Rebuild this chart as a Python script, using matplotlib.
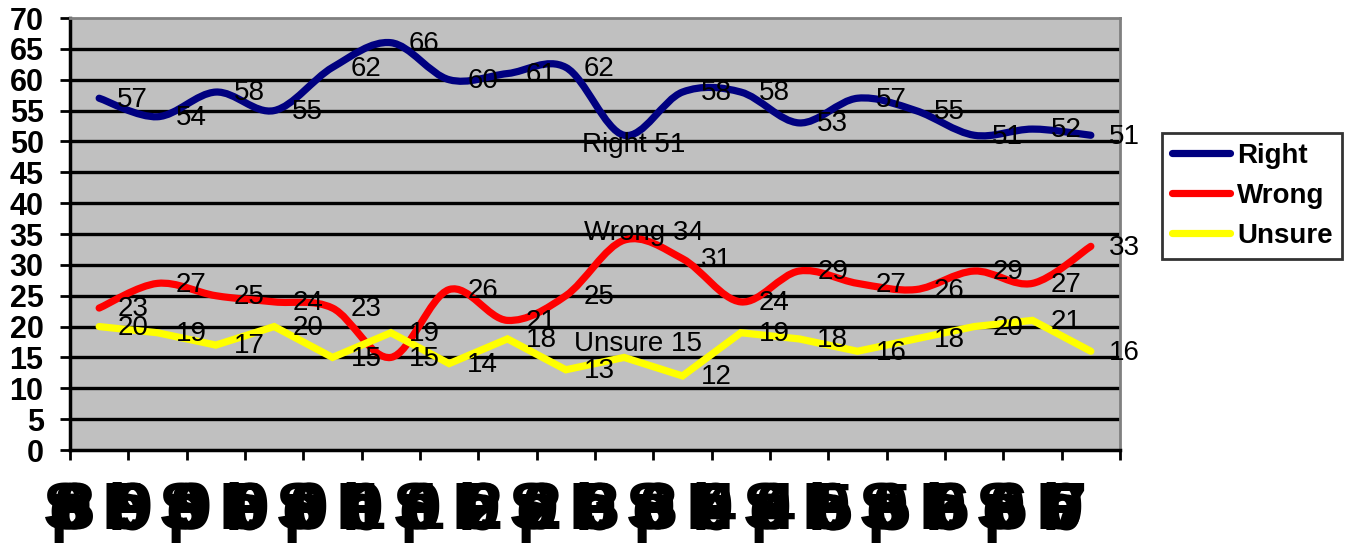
import numpy as np
import matplotlib
matplotlib.use('Agg')
import matplotlib.pyplot as plt
from matplotlib.path import Path
from matplotlib.patches import PathPatch
from matplotlib.lines import Line2D

# poll dates (x axis) and the three answer series
dates = ['Sep 98', 'Feb 99', 'Sep 99', 'Feb 00', 'Sep 00', 'Feb 01',
         'Sep 01', 'Feb 02', 'Sep 02', 'Feb 03', 'Sep 03', 'Feb 04',
         'Sep 04', 'Feb 05', 'Sep 05', 'Feb 06', 'Sep 06', 'Feb 07']
right = [57, 54, 58, 55, 62, 66, 60, 61, 62, 51, 58, 58, 53, 57, 55, 51, 52, 51]
wrong = [23, 27, 25, 24, 23, 15, 26, 21, 25, 34, 31, 24, 29, 27, 26, 29, 27, 33]
unsure = [20, 19, 17, 20, 15, 19, 14, 18, 13, 15, 12, 19, 18, 16, 18, 20, 21, 16]
yticks = list(range(0, 75, 5))

plt.rcParams['font.family'] = ['Liberation Sans', 'DejaVu Sans']


def smooth(ys):
    # excel style smoothed line: bezier through each point
    pts = np.column_stack([np.arange(len(ys)), ys]).astype(float)
    verts = [pts[0]]
    codes = [Path.MOVETO]
    n = len(pts)
    for i in range(n - 1):
        p0 = pts[i - 1] if i > 0 else pts[i]
        p1 = pts[i]
        p2 = pts[i + 1]
        p3 = pts[i + 2] if i + 2 < n else pts[i + 1]
        verts += [p1 + (p2 - p0) / 6, p2 - (p3 - p1) / 6, p2]
        codes += [Path.CURVE4] * 3
    return Path(verts, codes)


fig = plt.figure(figsize=(13.45, 5.5), dpi=100)
ax = fig.add_axes([70 / 1345, 100 / 550, 1050 / 1345, 432 / 550])
ax.set_facecolor('#C0C0C0')
ax.set_xlim(-0.5, len(dates) - 0.5)
ax.set_ylim(0, 70)

for v in yticks[1:-1]:
    ax.axhline(v, color='black', lw=2.4, zorder=1)

navy = '#000080'
lw = 5.2
ax.add_patch(PathPatch(smooth(right), fill=False, edgecolor=navy, lw=lw,
                       capstyle='round', joinstyle='round', zorder=3))
ax.add_patch(PathPatch(smooth(wrong), fill=False, edgecolor='#FF0000', lw=lw,
                       capstyle='round', joinstyle='round', zorder=3))
ax.plot(range(len(unsure)), unsure, color='#FFFF00', lw=lw,
        solid_capstyle='round', solid_joinstyle='miter', zorder=3)

# data labels
for series in [right, wrong, unsure]:
    for i, v in enumerate(series):
        if i == 9:
            continue
        ax.annotate(str(v), (i, v), xytext=(13, -1), textcoords='offset points',
                    ha='left', va='center', fontsize=20, zorder=5)

ax.annotate('Right %d' % right[9], (9, right[9]), xytext=(7, -7),
            textcoords='offset points', ha='center', va='center', fontsize=20, zorder=5)
ax.annotate('Wrong %d' % wrong[9], (9, wrong[9]), xytext=(14, 5),
            textcoords='offset points', ha='center', va='center', fontsize=20, zorder=5)
ax.annotate('Unsure %d' % unsure[9], (9, unsure[9]), xytext=(10, 10),
            textcoords='offset points', ha='center', va='center', fontsize=20, zorder=5)

ax.set_yticks(yticks)
ax.set_yticklabels([str(v) for v in yticks], fontsize=22, fontweight='bold')
ax.tick_params(axis='y', length=7, width=2, pad=12, direction='out')
ax.set_xticks(np.arange(-0.5, len(dates), 1.0))
ax.set_xticklabels([])
ax.tick_params(axis='x', length=7, width=2, direction='out')

for s in ['left', 'bottom']:
    ax.spines[s].set_color('black')
    ax.spines[s].set_linewidth(2.5)
for s in ['top', 'right']:
    ax.spines[s].set_color('#808080')
    ax.spines[s].set_linewidth(2)

# the crushed date labels under the axis
for i, lab in enumerate(dates):
    chars = [c for c in lab if c != ' ']
    k = len(chars)
    for j, c in enumerate(chars):
        ax.annotate(c, (i - 0.5, 0), xycoords=('data', 'axes fraction'),
                    xytext=((j - (k - 1) / 2) * 2.2, -57), textcoords='offset points',
                    ha='center', va='baseline', fontsize=48, fontweight='bold',
                    annotation_clip=False)

handles = [Line2D([], [], color=navy, lw=lw, solid_capstyle='round'),
           Line2D([], [], color='#FF0000', lw=lw, solid_capstyle='round'),
           Line2D([], [], color='#FFFF00', lw=lw, solid_capstyle='round')]
leg = fig.legend(handles, ['Right', 'Wrong', 'Unsure'], loc='center left',
                 bbox_to_anchor=(1162 / 1345, 1 - 196 / 550), fancybox=False,
                 frameon=True, edgecolor='black', prop={'size': 20, 'weight': 'bold'},
                 handlelength=2.1, handletextpad=0.25, labelspacing=0.5,
                 borderpad=0.35, borderaxespad=0)
leg.get_frame().set_linewidth(2)

fig.savefig('out.png', dpi=100)
